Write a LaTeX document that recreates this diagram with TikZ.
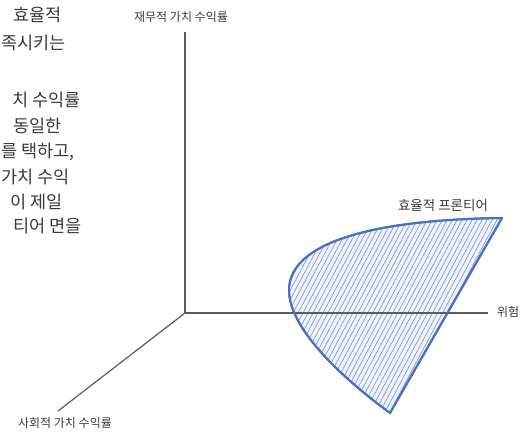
\documentclass[tikz,border=0pt]{standalone}
\usepackage{fontspec}
\newfontfamily\kr{Noto Sans CJK KR}
\usetikzlibrary{patterns.meta}
\definecolor{axisgray}{HTML}{5A5A5A}
\definecolor{frontblue}{HTML}{4472C4}
\definecolor{hatchblue}{HTML}{7F8FB5}
\definecolor{paleblue}{HTML}{EEF2FA}
\definecolor{textgray}{HTML}{3A3A3A}
\tikzset{
  axis/.style={draw=axisgray, line width=1.2pt},
  bodytext/.style={font=\kr\fontsize{17.5}{20}\selectfont, text=textgray, inner sep=0pt, anchor=east},
  bodyleft/.style={bodytext, anchor=west},
  axislabel/.style={font=\kr\fontsize{12}{14}\selectfont, text=textgray, inner sep=0pt},
  frontier/.style={draw=frontblue, line width=2pt, line join=round, fill=paleblue},
  hatch/.style={pattern={Lines[angle=62, distance=4.4pt, line width=0.6pt]}, pattern color=hatchblue}
}
\begin{document}
\begin{tikzpicture}[x=1pt, y=-1pt]
\useasboundingbox (0,0) rectangle (523,433);
% left text, as far as the reference shows it
\node[bodytext] (t1) at (62,15) {효율적};
\node[bodyleft] (t2) at (1,43) {족시키는};
\node[bodytext] (t3) at (81,100) {치 수익률};
\node[bodytext] (t4) at (62,126) {동일한};
\node[bodyleft] (t5) at (1,152) {를 택하고,};
\node[bodyleft] (t6) at (1,177) {가치 수익};
\node[bodytext] (t7) at (63,202) {이 제일};
\node[bodytext] (t8) at (82,226) {티어 면을};
% axes
\coordinate (O) at (185,313);
\coordinate (Ytop) at (185,32);
\coordinate (Xend) at (488,313);
\coordinate (Zend) at (58,411);
% frontier surface
\coordinate (A) at (502,218);
\coordinate (L) at (289,290);
\coordinate (B) at (390,413);
\path[frontier] (A) .. controls (350,220) and (289,250) .. (L)
  .. controls (289,330) and (345,380) .. (B) -- cycle;
\path[hatch] (A) .. controls (350,220) and (289,250) .. (L)
  .. controls (289,330) and (345,380) .. (B) -- cycle;
\draw[axis] (O) -- (Ytop);
\draw[axis] (O) -- (Xend);
\draw[axis] (O) -- (Zend);
\draw[draw=frontblue, line width=2pt, line join=round] (A) .. controls (350,220) and (289,250) .. (L)
  .. controls (289,330) and (345,380) .. (B) -- cycle;
% labels
\node[axislabel] (ly) at (181,17) {재무적 가치 수익률};
\node[axislabel, anchor=west] (lx) at (497,312) {위험};
\node[axislabel] (lz) at (65,423) {사회적 가치 수익률};
\node[axislabel, font=\kr\fontsize{13.5}{15}\selectfont] (lf) at (443,205) {효율적 프론티어};
\end{tikzpicture}
\end{document}
